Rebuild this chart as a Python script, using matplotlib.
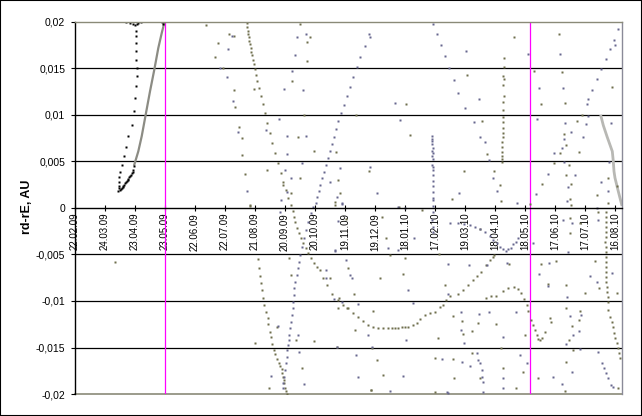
import numpy as np
import matplotlib
matplotlib.use("Agg")
import matplotlib.pyplot as plt
from matplotlib.patches import Rectangle

plt.rcParams["font.family"] = ["Liberation Sans", "DejaVu Sans"]

# x values: days after 22.02.09, y values in 1e-3 AU
tick_days = list(range(0, 541, 30))
tick_labels = ["22.02.09", "24.03.09", "23.04.09", "23.05.09", "22.06.09", "22.07.09",
               "21.08.09", "20.09.09", "20.10.09", "19.11.09", "19.12.09", "18.01.10",
               "17.02.10", "19.03.10", "18.04.10", "18.05.10", "17.06.10", "17.07.10",
               "16.08.10"]
y_ticks = [0.02, 0.015, 0.01, 0.005, 0, -0.005, -0.01, -0.015, -0.02]
y_labels = ["0,02", "0,015", "0,01", "0,005", "0", "-0,005", "-0,01", "-0,015", "-0,02"]
marker_days = [90, 455]

# first object (black)
black_days = [43.3, 43.5, 43.7, 44.3, 45.0, 45.8, 46.7, 47.5, 48.3, 49.2, 50.0, 50.8, 51.7,
              52.5, 53.3, 54.2, 55.0, 55.8, 56.7, 57.5, 58.3, 59.3,
              44.3, 45.3, 46.7, 49.0, 50.7, 53.3, 56.7, 59.0, 60.3, 61.3, 61.7, 61.7,
              61.3, 61.3, 61.0, 60.7, 60.7,
              50.7, 55.0, 58.3, 60.0, 61.7, 63.3, 65.7, 87.3, 88.3]
black_mau = [1.86, 2.10, 2.33, 2.80, 1.97, 2.05, 2.15, 2.28, 2.40, 2.52, 2.65, 2.76, 2.87,
             3.01, 3.15, 3.28, 3.40, 3.56, 3.73, 3.92, 4.12, 4.55,
             3.30, 3.87, 4.66, 5.56, 6.52, 7.71, 8.96, 10.47, 11.83, 13.08, 14.16, 15.05,
             15.95, 16.84, 17.74, 18.46, 19.07,
             19.95, 19.93, 19.78, 19.71, 19.78, 19.93, 19.95, 19.95, 19.8]

trend_days = [59.3, 63.3, 66.7, 70.7, 75.0, 79.3, 83.3, 86.7, 89.3]
trend_mau = [4.66, 6.09, 7.71, 10.04, 12.54, 14.87, 17.2, 18.8, 19.9]

fade_days = [526.0, 528.3, 532.3, 537.3, 538.3, 539.0, 540.0, 543.3, 546.7]
fade_mau = [9.86, 8.89, 7.6, 6.09, 5.02, 3.94, 3.23, 1.79, 0.36]

# olive tracks
track_a_days = [171.7, 172, 172.7, 173, 173.7, 174, 175, 175.7, 176, 177, 177.7, 178.7, 180, 181,
                182, 184, 186, 187.7, 190, 191.7, 195, 197, 200, 203, 206, 208, 211, 212.7, 216,
                217.7, 219, 220.3, 222, 224, 226, 228.3, 231, 233, 236, 239, 242, 245, 248.3,
                251.7, 256.7, 263.3, 268.3, 273.3, 278.3, 283.3, 288.3, 293.3, 298, 303, 308,
                313, 316.7, 320, 323.3, 326.7, 330, 333.3, 338.3, 341.7, 345, 350, 355, 360,
                365, 368.3, 371, 375, 383, 388, 393, 398, 402, 406, 411, 415, 419]
track_a_mau = [19.89, 19.46, 19.07, 18.71, 18.39, 18.0, 17.63, 17.2, 16.81, 16.45, 15.9, 15.48,
               14.95, 14.3, 13.69, 12.94, 12.04, 11.18, 10.22, 9.14, 8.07, 7.0, 5.92, 4.84, 3.76,
               2.8, 1.94, 1.08, 0.32, -0.32, -0.93, -1.47, -2.15, -2.69, -3.23, -3.8, -4.3,
               -4.84, -5.38, -5.91, -6.34, -6.67, -7.53, -8.28, -9.28, -9.89, -10.43, -10.78,
               -11.32, -11.68, -12.15, -12.58, -12.8, -12.9, -12.9, -12.87, -12.87, -12.87,
               -12.87, -12.83, -12.79, -12.76, -12.58, -12.33, -11.93, -11.5, -11.32, -11.15,
               -10.61, -10.43, -9.89, -9.5, -9.25, -8.82, -8.28, -7.74, -7.31, -6.88, -6.13,
               -5.59, -5.05]

track_c_days = [182.7, 184, 185, 185.7, 187, 188, 189, 190.7, 192.7, 193.3, 195, 196.3, 197.3,
                199.3, 200.3, 202, 204, 205.3, 206.7, 207, 208, 209, 209.3, 210, 211, 211.7]
track_c_mau = [-5.52, -6.42, -7.28, -8.03, -8.78, -9.64, -10.43, -11.15, -11.86, -12.51, -13.3,
               -13.91, -14.59, -15.27, -15.73, -16.24, -16.67, -16.99, -17.28, -17.78, -18.14,
               -18.53, -18.85, -19.32, -19.64, -19.96]

track_e_days = [428.7, 428.7, 428, 429, 428, 429, 428, 428, 428, 428, 428, 428, 428, 427, 427,
                427, 427, 427, 427]
track_e_mau = [16.13, 15.16, 14.19, 13.87, 13.23, 12.04, 11.4, 10.54, 9.79, 9.25, 8.6, 8.07,
               7.64, 7.1, 6.56, 6.02, 5.59, 5.27, 4.95]

track_g_days = [411, 416, 421, 427.7, 433.3, 439.3, 442.7, 445.7, 449.3, 451.7, 453.3, 456,
                458.3, 460, 461.7, 463.3, 465.3, 467.3, 470, 475, 476]
track_g_mau = [-9.64, -9.5, -9.42, -8.89, -8.6, -8.53, -8.67, -9.17, -9.82, -10.43, -11.08,
               -12.04, -12.58, -13.12, -13.65, -14.12, -14.19, -14.0, -13.3, -11.86, -12.22]

track_h_days = [531, 531, 531, 530.7, 530.7, 531, 530.3, 530.7, 530.7, 530.7, 530.7, 530.7, 531,
                531, 531, 531.7, 531.7, 532.7, 533.3, 533.3, 535, 536.7, 538.3, 539, 540,
                541.7, 542.7, 544, 545]
track_h_mau = [-0.4, -0.93, -1.47, -2.01, -2.54, -3.08, -3.62, -4.16, -4.69, -5.23, -5.77,
               -6.31, -6.85, -7.38, -7.92, -8.46, -9.0, -9.53, -10.07, -10.97, -11.68, -12.22,
               -12.76, -13.47, -14.01, -14.55, -15.08, -15.62, -16.16]

# blue tracks
track_b_days = [207.7, 208.3, 209, 210, 210.7, 211.7, 212.3, 213, 213.7, 214.3, 215.3, 216, 217,
                217.7, 218.3, 219, 219.3, 220, 222, 223, 224, 225, 227, 229, 231, 233, 236,
                238, 240.7, 241.7, 243.7, 245, 246.7, 248.7, 251, 252.7, 255, 257, 259, 261,
                263, 266, 269, 272, 275, 278, 282, 285, 290, 294, 295]
track_b_mau = [-19.35, -18.85, -18.13, -17.42, -16.7, -15.99, -15.27, -14.73, -14.19, -13.65,
               -12.94, -12.22, -11.5, -10.78, -10.07, -9.35, -8.63, -7.92, -7.2, -6.48, -5.77,
               -5.05, -4.16, -3.26, -2.37, -1.47, -0.57, 0.11, 0.54, 1.18, 1.86, 2.51, 3.23,
               3.87, 4.62, 5.38, 6.09, 6.88, 7.64, 8.5, 9.36, 10.22, 11.08, 12.04, 13.01,
               14.09, 15.16, 16.24, 17.42, 18.75, 18.39]

track_d_days = [357, 357, 357, 357, 357.7, 357, 358, 357, 357.7, 357, 358, 358, 357.7, 358,
                357.7, 357.7, 358, 357.7, 357.7, 357.7, 357.3, 357.7, 358]
track_d_mau = [7.71, 7.46, 7.17, 6.88, 6.45, 6.17, 5.92, 5.63, 5.27, 4.66, 4.41, 4.09, 3.51,
               2.94, 2.33, 1.69, 1.08, 0.9, 0.25, -0.4, -1.29, -2.01, -2.54]

track_f_days = [375, 383.3, 389, 395, 400, 405, 410, 415, 418.3, 421.7, 425, 427.7, 431, 433.3,
                435.7, 438.3, 440.7, 443]
track_f_mau = [-1.65, -1.65, -1.7, -1.83, -2.01, -2.29, -2.54, -3.01, -3.44, -3.8, -4.16,
               -4.44, -4.62, -4.44, -4.26, -3.91, -3.69, -3.2]

track_i_days = [522.7, 526.7, 529, 531, 533.3, 535.7, 537.7]
track_i_mau = [-15.45, -16.7, -17.24, -17.77, -18.31, -19.03, -19.2]

track_j_days = [401.7, 403.3, 405, 406.7, 407.3, 407.7, 408.3]
track_j_mau = [-15.63, -16.34, -16.7, -17.42, -18.13, -18.67, -19.74]

track_k_days = [511, 512, 513, 517, 522, 526, 531, 535, 540, 539, 543]
track_k_mau = [9.04, 11.15, 11.72, 12.69, 13.87, 14.95, 16.02, 17.1, 17.53, 18.07, 19.25]

track_m_days = [358, 362, 366, 370, 374, 379, 383, 390, 399, 405]
track_m_mau = [19.82, 18.71, 17.53, 16.34, 15.05, 13.76, 12.37, 10.75, 9.25, 7.64]

# loose points
loose_olive_days = [131, 154, 158.7, 143, 140, 147.7, 159, 160, 179, 217, 225, 234.7, 232, 232,
                    229, 164, 167, 223, 239, 167, 261, 263, 265, 260, 216, 225, 192, 170, 175,
                    208, 281, 331, 335, 392, 407, 389, 377, 294, 324, 439, 412, 419, 425, 426,
                    455, 467, 459, 466, 484, 487, 490, 489, 491, 485, 479, 494, 502, 504, 507,
                    537, 491, 496, 495, 496, 522, 533, 533, 542,
                    40, 175, 180, 194, 216, 201.7, 221, 226.7, 239, 262.7, 271.7, 264, 214.3,
                    271, 260, 306.7, 346.7, 311, 315, 330, 327.7, 305, 297.7, 280, 296.7,
                    362.7, 301.7, 307.7, 295.7, 360, 360, 378.3, 379.3, 396.7, 378.3, 386.7,
                    387.7, 396.7, 403.3, 370, 364, 272.7, 279.3, 261.7, 296, 255, 405, 417.7,
                    434.3, 421, 426, 450, 427.7, 448.3, 405, 441, 465.7, 481, 472.7, 491, 510,
                    520, 524, 541.7, 491, 496.7, 494.3, 505, 504.3, 498.3, 491, 463.3, 490,
                    542.7, 495, 495, 505, 522.7]
loose_olive_mau = [19.64, 18.75, 18.53, 17.74, 16.24, 15.05, 12.72, 10.86, 12.8, 13.69, 19.82,
                   18.39, 17.85, 15.81, 10.0, 8.71, 7.53, 7.64, 6.13, 5.74, 6.02, 3.01, 1.61,
                   0.65, 1.61, 3.23, 4.09, 3.69, 0.25, 2.51, 10.0, 11.18, 7.85, 14.3, 9.36,
                   3.98, 0.97, 3.98, 0.07, 18.39, 5.81, 3.98, 2.47, 0.75, 0.43, 2.58, 14.73,
                   11.18, 18.71, 14.62, 11.29, 7.96, 6.77, 5.92, 4.84, 4.62, 9.36, 6.02, 10.0,
                   13.01, 3.55, 2.58, 0.97, 0.32, 1.4, 3.23, 0.54, 2.37,
                   -5.8, 0.32, -14.48, -19.38, -7.2, -12.83, -14.19, -17.24, -14.3, -10.78,
                   -10.78, -9.71, -5.41, -1.18, 0.32, -0.93, -0.22, -3.19, -5.05, -5.34, -7.1,
                   -7.49, -11.07, -13.12, -15.02, -13.94, -16.34, -17.95, -19.56, -19.74,
                   -16.09, -16.23, -18.31, -15.63, -11.58, -12.15, -13.58, -13.22, -12.4,
                   -8.28, -4.98, -6.42, -9.28, -14.91, -19.56, -7.56, -2.26, -5.23, -6.06,
                   -12.51, -15.02, -13.65, -17.17, -17.6, -18.31, -19.38, -6.06, -5.7, -8.14,
                   -8.28, -9.17, -5.7, -8.57, -9.17, -10.78, -12.65, -14.19, -11.07, -12.04,
                   -15.27, -16.52, -18.31, -19.64, -19.32, -1.11, -2.72, -1.65, -0.4]

loose_blue_days = [157, 153, 145, 152, 158, 209, 217, 231, 222, 220, 228, 204, 163, 212, 231,
                   212, 191, 265, 255, 262, 267, 216, 210, 227, 172, 205.7, 212.3, 320, 325,
                   391, 404, 410, 384, 295, 302, 453, 414, 418, 422, 442, 461, 473, 464, 462,
                   485, 488, 490, 489, 487, 479, 489, 496, 508, 513, 536, 500, 493, 492, 526,
                   522, 533, 534,
                   205, 195.7, 203.3, 223.3, 224.3, 229, 261.7, 251, 266.7, 251, 263.3, 260,
                   266.7, 323.3, 330, 312.7, 322.7, 339, 332.7, 338.3, 282.7, 292.7, 331, 281,
                   282.7, 327.7, 315, 371.7, 366.7, 386.7, 395, 373.3, 386, 386, 389, 404.3,
                   373.3, 394, 271, 275, 276.7, 296.7, 373.3, 260, 259, 411.7, 431.7, 414.3,
                   427.7, 441, 445, 428.3, 451.7, 428.3, 457.7, 474, 464, 473.3, 491.7, 515,
                   521.7, 536.7, 495, 497.7, 491, 506, 504.3, 505, 478.3, 486.7, 496.7, 488.3,
                   496.7, 493.3, 523.3]
loose_blue_mau = [18.53, 17.1, 15.05, 14.09, 11.54, 12.8, 14.77, 18.71, 18.39, 16.45, 12.69,
                  9.57, 8.17, 7.74, 7.74, 5.81, 8.39, 4.3, 2.8, 1.18, 0.43, 3.23, 4.09, 4.84,
                  1.83, 0.9, 1.72, 11.29, 9.46, 16.88, 11.72, 7.1, 1.61, 4.41, 1.61, 16.56,
                  5.16, 3.23, 1.83, 0.54, 1.51, 3.66, 12.9, 9.57, 16.56, 12.94, 9.14, 7.42,
                  6.45, 5.92, 4.95, 8.17, 7.64, 9.89, 9.14, 3.55, 2.26, 0.75, 2.8, 0.0, 1.83,
                  4.95,
                  -0.4, -18.03, -12.65, -13.65, -15.45, -18.96, -14.98, -7.56, -10.14, -6.67,
                  -1.4, -4.52, 0.5, 0.14, -0.04, -4.34, -4.52, -3.19, -8.82, -10.25, -10.32,
                  -13.65, -14.19, -15.8, -18.13, -18.03, -19.67, -19.81, -16.2, -16.52,
                  -16.95, -9.28, -11.22, -13.12, -14.55, -11.43, -6.06, -6.13, -5.59, -7.2,
                  -7.49, -14.91, -19.85, -4.62, -9.82, -6.13, -5.95, -11.15, -13.83, -11.15,
                  -15.8, -18.31, -16.7, -19.38, -3.8, -5.91, -7.13, -8.39, -9.53, -7.31,
                  -7.92, -7.02, -11.61, -13.65, -14.66, -11.5, -13.22, -15.16, -18.13, -18.96,
                  -17.6, -1.29, -1.65, -4.7, -1.29]

OLIVE = "#6e6e4c"
BLUE = "#66668e"


def dots(ax, days, mau, color, size=1.7):
    ax.plot(days, np.array(mau) * 1e-3, "s", ms=size, mec="none", mfc=color, zorder=4)


fig = plt.figure(figsize=(6.42, 4.16), dpi=100)
ax = fig.add_axes([75 / 642, 22 / 416, 547 / 642, 372 / 416])

ax.set_xlim(0, 547)
ax.set_ylim(-0.02, 0.02)

# grid lines
for v in [0.015, 0.01, 0.005, -0.005, -0.01, -0.015]:
    ax.axhline(v, color="black", lw=0.9, zorder=1)
for d in marker_days:
    ax.axvline(d, color="#ff00ff", lw=0.9, zorder=2)
ax.axhline(-0.02, color="#8a8a78", lw=1.2, zorder=1, clip_on=False)

ax.plot(trend_days, np.array(trend_mau) * 1e-3, color="#8c8c84", lw=1.6, zorder=3)
ax.plot(fade_days, np.array(fade_mau) * 1e-3, color="#b8b8b4", lw=2.0, zorder=3)

for dd, mm in [(track_a_days, track_a_mau), (track_c_days, track_c_mau),
               (track_e_days, track_e_mau), (track_g_days, track_g_mau),
               (track_h_days, track_h_mau), (loose_olive_days, loose_olive_mau)]:
    dots(ax, dd, mm, OLIVE)
for dd, mm in [(track_b_days, track_b_mau), (track_d_days, track_d_mau),
               (track_f_days, track_f_mau), (track_i_days, track_i_mau),
               (track_j_days, track_j_mau), (track_k_days, track_k_mau),
               (track_m_days, track_m_mau), (loose_blue_days, loose_blue_mau)]:
    dots(ax, dd, mm, BLUE)
dots(ax, black_days, black_mau, "black", size=1.9)

# axes styling
ax.spines["bottom"].set_position(("data", 0))
ax.spines["bottom"].set_color("black")
ax.spines["left"].set_color("black")
ax.spines["top"].set_color("#8a8a78")
ax.spines["right"].set_color("#8a8a98")
for s in ax.spines.values():
    s.set_linewidth(1.0)
    s.set_zorder(5)

ax.set_xticks(tick_days)
ax.set_xticklabels(tick_labels, rotation=90, fontsize=7)
ax.tick_params(axis="x", direction="inout", length=5, width=0.8, pad=1)
ax.set_yticks(y_ticks)
ax.set_yticklabels(y_labels, fontsize=7.5)
ax.tick_params(axis="y", direction="out", length=3, width=0.8, pad=4)

fig.text(27 / 642, 1 - 207 / 416, "rd-rE, AU", rotation=90, ha="center", va="center",
         fontsize=9, fontweight="bold")

fig.patches.append(Rectangle((0, 0), 1, 1, transform=fig.transFigure, fill=False,
                             ec="black", lw=1.5))

fig.savefig("out.png", dpi=100)
